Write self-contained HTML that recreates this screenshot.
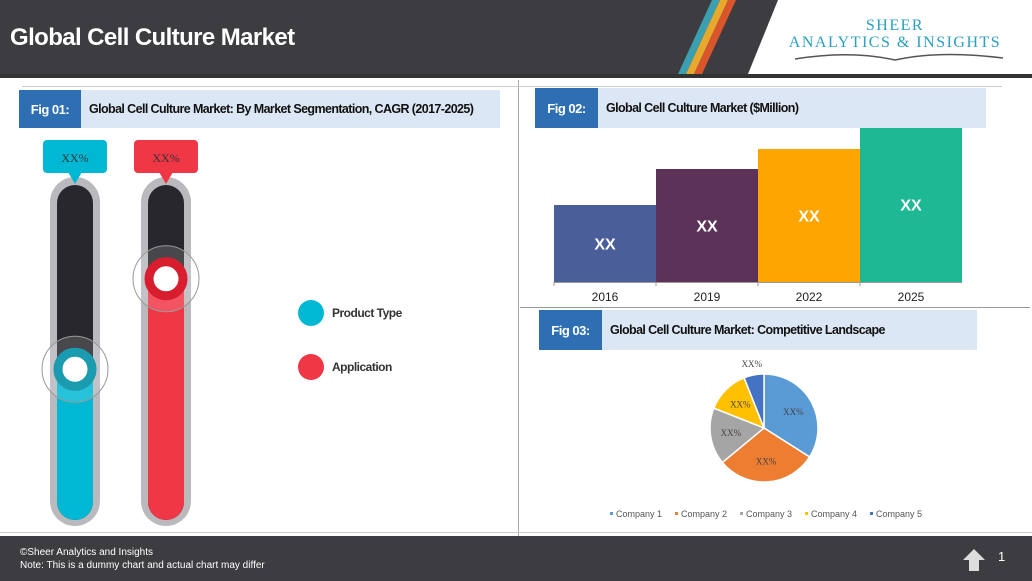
<!DOCTYPE html>
<html><head><meta charset="utf-8"><style>
*{margin:0;padding:0;box-sizing:border-box}
body{width:1032px;height:581px;position:relative;background:#fff;font-family:"Liberation Sans",Arial,sans-serif;overflow:hidden}
.abs{position:absolute}
.fighead{position:absolute;height:40px;background:#dce7f5;display:flex;align-items:center}
.fighead .tag{background:#2e6fb4;color:#fff;font-weight:bold;font-size:13px;height:100%;display:flex;align-items:center;justify-content:center;letter-spacing:-0.5px}
.fighead .ttl{font-weight:bold;font-size:12.5px;color:#111;padding-left:14px;letter-spacing:-0.6px;white-space:nowrap}
</style></head><body>
<div class="abs" style="left:0;top:0;width:1032px;height:78px;background:#3d3c40"></div>
<svg class="abs" style="left:0;top:0" width="1032" height="80">
<polygon points="778,0 1032,0 1032,74 748,74" fill="#fff"/>
<polygon points="712,0 720,0 686,74 678,74" fill="#3a9fb0"/>
<polygon points="720,0 728,0 694,74 686,74" fill="#e6a92e"/>
<polygon points="728,0 736,0 702,74 694,74" fill="#d9552b"/>
<rect x="0" y="74" width="1032" height="4" fill="#333"/>
<path d="M795,59 Q850,50 895,60 Q940,50 1003,58" stroke="#555" fill="none" stroke-width="1.5"/>
</svg>
<div class="abs" style="left:10px;top:24px;color:#fff;font-size:24px;font-weight:bold;letter-spacing:-0.6px">Global Cell Culture Market</div>
<div class="abs" style="left:780px;top:17px;width:230px;text-align:center;color:#2a9fc0;font-family:'Liberation Serif',serif;font-size:16px;line-height:17px;letter-spacing:1.5px">SHEER<br>ANALYTICS &amp; INSIGHTS</div>

<div class="abs" style="left:518px;top:80px;width:1px;height:482px;background:#aaa"></div>
<div class="abs" style="left:22px;top:86px;width:980px;height:1px;background:#ccc"></div>
<div class="abs" style="left:520px;top:307px;width:510px;height:1px;background:#999"></div>
<div class="abs" style="left:0;top:532px;width:1032px;height:1px;background:#ccc"></div>

<div class="fighead" style="left:19px;top:90px;width:481px;height:38px"><div class="tag" style="width:62px">Fig 01:</div><div class="ttl" style="padding-left:8px">Global Cell Culture Market: By Market Segmentation, CAGR (2017-2025)</div></div>
<div class="fighead" style="left:535px;top:88px;width:451px;height:40px;z-index:2"><div class="tag" style="width:63px">Fig 02:</div><div class="ttl" style="padding-left:8px">Global Cell Culture Market ($Million)</div></div>
<div class="fighead" style="left:539px;top:310px;width:438px;height:40px"><div class="tag" style="width:63px">Fig 03:</div><div class="ttl" style="padding-left:8px">Global Cell Culture Market: Competitive Landscape</div></div>

<svg class="abs" style="left:0;top:0" width="520" height="535" id="therm"></svg>
<svg class="abs" style="left:520px;top:100px" width="510" height="210" id="bars"></svg>
<svg class="abs" style="left:520px;top:350px" width="510" height="185" id="pie"></svg>

<div class="abs" style="left:0;top:536px;width:1032px;height:45px;background:#3d3c40"></div>
<div class="abs" style="left:20px;top:546px;color:#fff;font-size:10px;line-height:13px">©Sheer Analytics and Insights<br>Note: This is a dummy chart and actual chart may differ</div>
<svg class="abs" style="left:962px;top:548px" width="24" height="24"><polygon points="12,1 23,12 17,12 17,23 7,23 7,12 1,12" fill="#ddd"/></svg>
<div class="abs" style="left:998px;top:549px;color:#fff;font-size:13px">1</div>

<script>
const NS="http://www.w3.org/2000/svg";
function mk(p,t,a){const e=document.createElementNS(NS,t);for(const k in a)e.setAttribute(k,a[k]);p.appendChild(e);return e;}

// Thermometer
const segNames=["Product Type","Application"];
const segValues=[45,72]; // percent fill
const segLabels=["XX%","XX%"];
const segColors=["#00b8d4","#f03746"];
const th=document.getElementById('therm');
const tTop=185,tBot=520;
function ty(v){return tBot-(tBot-tTop)*v/100;}
segValues.forEach((v,i)=>{
  const cx=[75,166][i];
  const g=mk(th,'g',{});
  
  
  mk(g,'rect',{x:cx-25,y:tTop-8,width:50,height:tBot-tTop+14,rx:25,fill:'#b9b9be'});
  mk(g,'rect',{x:cx-18,y:tTop,width:36,height:tBot-tTop,rx:18,fill:'#28272d'});
  const y=ty(v);
  mk(g,'path',{d:`M${cx-18},${y} L${cx+18},${y} L${cx+18},${tBot-18} A18,18 0 0 1 ${cx-18},${tBot-18} Z`,fill:segColors[i]});
  mk(g,'circle',{cx:cx,cy:y,r:33,fill:'rgba(255,255,255,0.15)',stroke:'#999','stroke-width':1});
  mk(g,'circle',{cx:cx,cy:y,r:17,fill:'#fff',stroke:i?'#d81e2e':'#1a9bb0','stroke-width':9});
  const bx=cx-32;
  mk(g,'rect',{x:bx,y:140,width:64,height:33,rx:4,fill:segColors[i]});
  mk(g,'polygon',{points:`${cx-7},172 ${cx+7},172 ${cx},184`,fill:segColors[i]});
  const t=mk(g,'text',{x:cx,y:162,'text-anchor':'middle','font-size':12,fill:'#333','font-family':'Liberation Serif'});
  t.textContent=segLabels[i];
  const ly=[313,367][i];
  const lc=mk(th,'circle',{cx:311,cy:ly,r:13,fill:segColors[i]});
  
  
  const lt=mk(th,'text',{x:332,y:ly+4,'font-size':12,'font-weight':'bold',fill:'#333','letter-spacing':'-0.5'});
  
  
  lt.textContent=segNames[i];
});

// Bars
const years=["2016","2019","2022","2025"];
const barValues=[77,113,133,155];
const barLabels=["XX","XX","XX","XX"];
const barColors=["#4a5e9a","#5c3259","#ffa500","#1fb894"];
const bs=document.getElementById('bars');
const base=182,x0=34,bw=102;
function by(v){return base-v;}
mk(bs,'line',{x1:x0,y1:base+0.5,x2:x0+bw*4,y2:base+0.5,stroke:'#999'});
years.forEach((yr,i)=>{
  const r=mk(bs,'rect',{x:x0+i*bw,y:by(barValues[i]),width:bw,height:base-by(barValues[i]),fill:barColors[i]});
  
  
  const t=mk(bs,'text',{x:x0+i*bw+bw/2,y:(by(barValues[i])+base)/2+6,'text-anchor':'middle','font-size':16,'font-weight':'bold',fill:'#fff'});
  t.textContent=barLabels[i];
  const l=mk(bs,'text',{x:x0+i*bw+bw/2,y:base+19,'text-anchor':'middle','font-size':12,fill:'#222'});
  
  
  l.textContent=yr;
  mk(bs,'line',{x1:x0+i*bw,y1:base,x2:x0+i*bw,y2:base+4,stroke:'#999'});
});

// Pie
const companies=["Company 1","Company 2","Company 3","Company 4","Company 5"];
const shares=[34,30,17,13,6];
const pieLabels=["XX%","XX%","XX%","XX%","XX%"];
const pieColors=["#5b9bd5","#ed7d31","#a5a5a5","#ffc000","#4472c4"];
const ps=document.getElementById('pie');
const pcx=244,pcy=78,pr=54;
const total=shares.reduce((a,b)=>a+b,0);
let ang=-Math.PI/2;
shares.forEach((s,i)=>{
  const a2=ang+2*Math.PI*s/total;
  const p=mk(ps,'path',{d:`M${pcx},${pcy} L${pcx+pr*Math.cos(ang)},${pcy+pr*Math.sin(ang)} A${pr},${pr} 0 ${a2-ang>Math.PI?1:0} 1 ${pcx+pr*Math.cos(a2)},${pcy+pr*Math.sin(a2)} Z`,fill:pieColors[i],stroke:'#fff','stroke-width':1.5});
  
  
  const m=(ang+a2)/2, lr=i==4?pr+11:pr*0.62;
  const t=mk(ps,'text',{x:pcx+lr*Math.cos(m),y:pcy+lr*Math.sin(m)+3,'text-anchor':'middle','font-size':9,fill:'#444','font-family':'Liberation Serif'});
  t.textContent=pieLabels[i];
  ang=a2;
});
companies.forEach((c,i)=>{
  const lx=90+i*65;
  mk(ps,'rect',{x:lx,y:162,width:3,height:3,fill:pieColors[i]});
  const t=mk(ps,'text',{x:lx+6,y:167,'font-size':9,fill:'#555'});
  
  
  t.textContent=c;
});
</script>
</body></html>
